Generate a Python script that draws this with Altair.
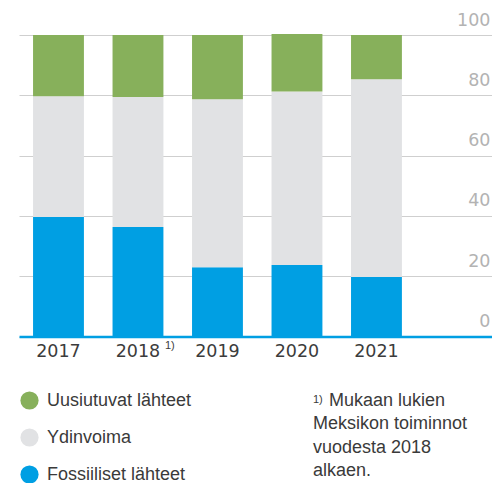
import altair as alt
import pandas as pd

years = ["2017", "2018", "2019", "2020", "2021"]
fossil = [39.6, 36.3, 23.0, 23.7, 19.7]
nuclear = [40.1, 43.1, 55.7, 57.6, 65.6]
renewable = [20.3, 20.6, 21.3, 19.0, 14.7]
series = ["Uusiutuvat lähteet", "Ydinvoima", "Fossiiliset lähteet"]
colors = ["#87b05b", "#e1e2e4", "#009fe3"]
y_ticks = [0, 20, 40, 60, 80, 100]
x_slots = years + ["_"]
note_mark = "1)"
note_first = "Mukaan lukien"
note_rest = ["Meksikon toiminnot", "vuodesta 2018", "alkaen."]

rows = []
for i, yr in enumerate(years):
    rows.append({"year": yr, "series": series[2], "value": fossil[i], "ord": 0})
    rows.append({"year": yr, "series": series[1], "value": nuclear[i], "ord": 1})
    rows.append({"year": yr, "series": series[0], "value": renewable[i], "ord": 2})
df = pd.DataFrame(rows)

FONT = "Liberation Sans"
NUMFONT = "DejaVu Sans"

x_scale = alt.Scale(domain=x_slots, paddingInner=0.36, paddingOuter=0.155, align=0.57)
y_scale = alt.Scale(domain=[0, 100], nice=False)

bars = alt.Chart(df).mark_bar(strokeWidth=0).encode(
    x=alt.X("year:N", scale=x_scale, sort=x_slots,
            axis=alt.Axis(title=None, ticks=False, labelAngle=0,
                          domainColor="#009fe3", domainWidth=2.5,
                          labelPadding=6, labelColor="#3c3c3c",
                          labelFont=NUMFONT, labelFontSize=17.5,
                          labelExpr="datum.value == '_' ? '' : datum.value")),
    y=alt.Y("value:Q", stack="zero", scale=y_scale,
            axis=alt.Axis(title=None, orient="right", values=y_ticks,
                          domain=False, ticks=False, grid=True,
                          gridColor="#cfcfcf", gridWidth=1,
                          labelAlign="right", labelPadding=-2,
                          labelBaseline="alphabetic", labelOffset=-10,
                          labelColor="#b3b3b3", labelFont=NUMFONT,
                          labelFontSize=17.5)),
    color=alt.Color("series:N",
                    scale=alt.Scale(domain=series, range=colors),
                    legend=alt.Legend(title=None, orient="none",
                                      legendX=1, legendY=356,
                                      direction="vertical",
                                      symbolType="circle", symbolSize=330,
                                      symbolStrokeWidth=0,
                                      labelFont=FONT, labelFontSize=18,
                                      labelColor="#3a3a3a", labelOffset=8,
                                      rowPadding=18, padding=0)),
    order=alt.Order("ord:Q", sort="ascending"),
)

sup_df = pd.DataFrame({"year": ["2018"], "t": [note_mark]})
sup = alt.Chart(sup_df).mark_text(
    align="left", baseline="top", dx=27, fontSize=11, font=FONT, color="#3c3c3c"
).encode(
    x=alt.X("year:N", scale=x_scale, sort=x_slots),
    y=alt.value(305),
    text="t:N",
)

n1 = pd.DataFrame({"t": [note_mark]})
note_sup = alt.Chart(n1).mark_text(
    align="left", baseline="top", fontSize=11, font=FONT, color="#3a3a3a"
).encode(x=alt.value(294), y=alt.value(359), text="t:N")

n2 = pd.DataFrame({"t": [note_first]})
note_l1 = alt.Chart(n2).mark_text(
    align="left", baseline="alphabetic", fontSize=18, font=FONT, color="#3a3a3a"
).encode(x=alt.value(310), y=alt.value(371), text="t:N")

n3 = pd.DataFrame({"t": ["\n".join(note_rest)]})
note_rest_mark = alt.Chart(n3).mark_text(
    align="left", baseline="alphabetic", fontSize=18, font=FONT,
    color="#3a3a3a", lineBreak="\n", lineHeight=23.3
).encode(x=alt.value(294), y=alt.value(394.3), text="t:N")

chart = alt.layer(bars, sup, note_sup, note_l1, note_rest_mark).properties(
    width=473, height=301.5,
    autosize=alt.AutoSizeParams(type="none"),
    padding={"left": 19, "top": 35, "right": 0, "bottom": 146.5},
).configure_view(stroke=None)

chart.save("out.html", embed_options={"renderer": "svg", "actions": False})
